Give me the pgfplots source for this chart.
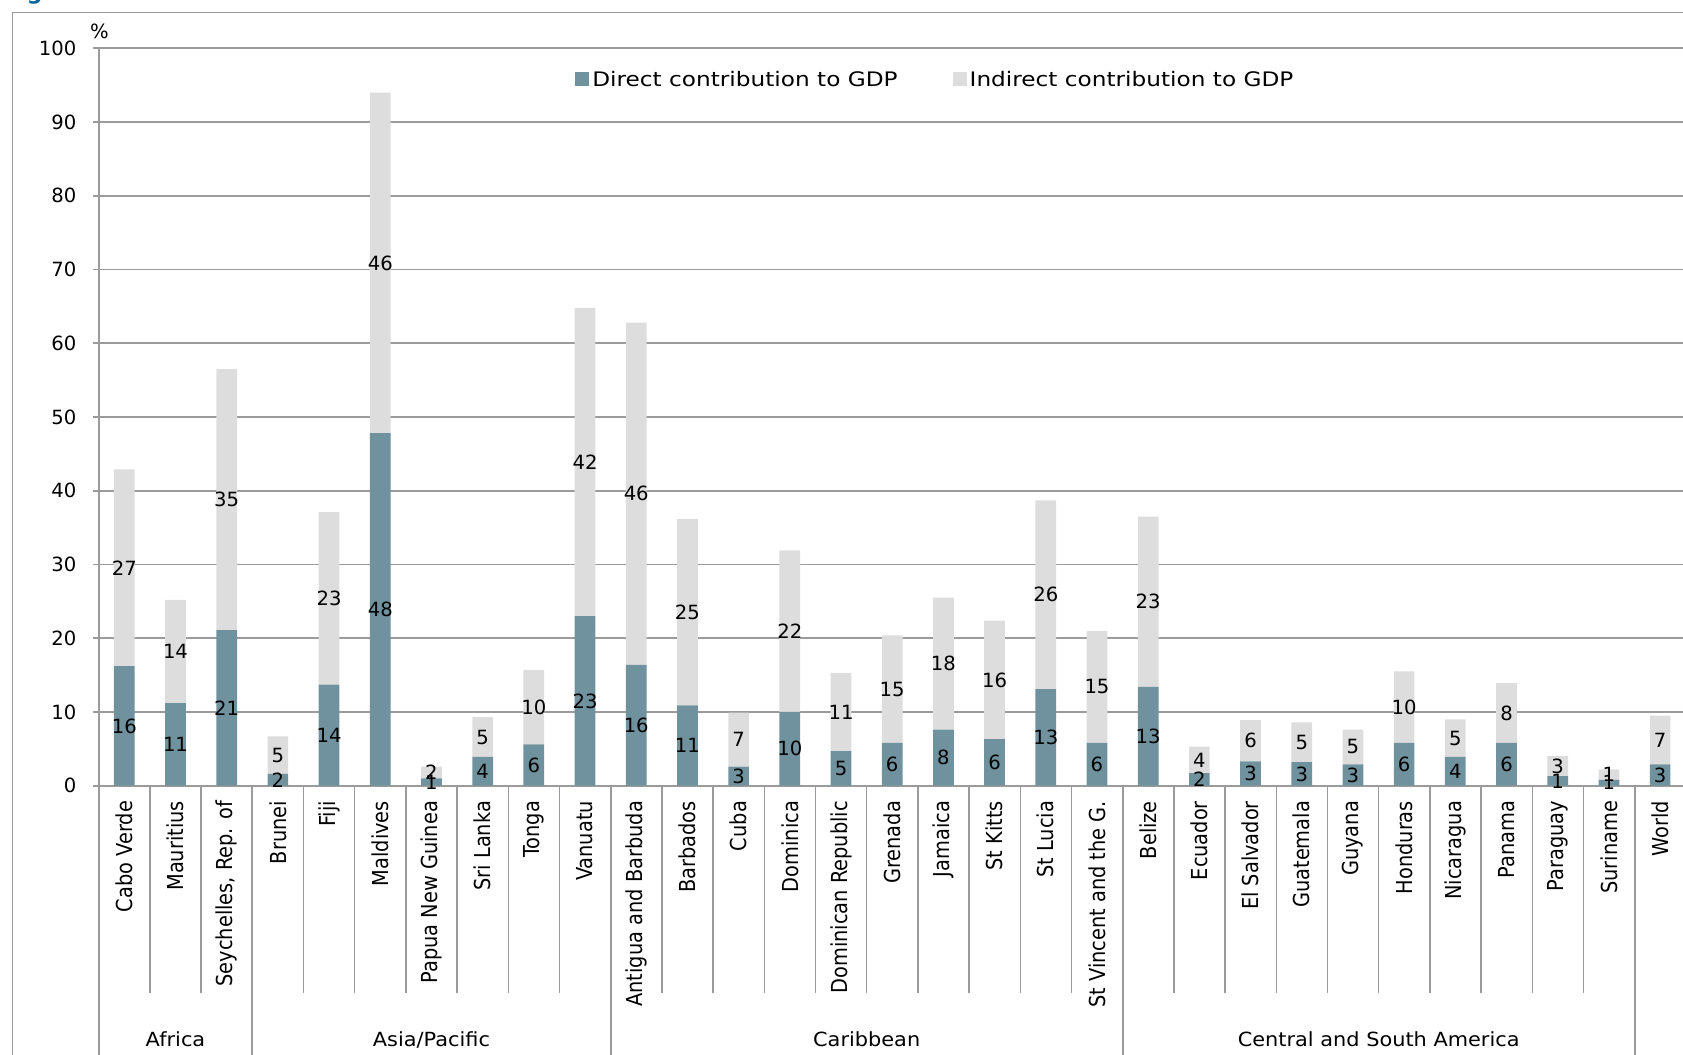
\documentclass[border=0pt]{standalone}
\usepackage{pgfplots}
\pgfplotsset{compat=1.18}
\usepackage{pgfplotstable}
\usepackage{fontspec}
\setmainfont{DejaVu Sans}
\newfontfamily\numfamily{DejaVu Sans}
\newfontfamily\legfamily{DejaVu Sans}[FakeStretch=1.16]
\newfontfamily\grpfamily{DejaVu Sans}[FakeStretch=1.07]
\newfontfamily\rotfamily{DejaVu Sans}[FakeStretch=0.88]
\newcommand\numfont{\numfamily\fontsize{9.8pt}{11pt}\selectfont}
\newcommand\legfont{\legfamily\fontsize{10pt}{12pt}\selectfont}
\newcommand\grpfont{\grpfamily\fontsize{9.75pt}{12pt}\selectfont}
\newcommand\rotfont{\rotfamily\fontsize{11pt}{13pt}\selectfont}

\definecolor{direct}{RGB}{111,146,158}
\definecolor{indirect}{RGB}{221,221,221}
\definecolor{rulegray}{RGB}{155,155,155}
\definecolor{titleblue}{RGB}{0,102,153}

% travel and tourism: direct and indirect contribution to GDP, per cent
\pgfplotstableread{
i  d     n
0  16.2  26.7
1  11.2  14.0
2  21.1  35.4
3  1.6   5.1
4  13.7  23.4
5  47.8  46.2
6  1.0   1.6
7  3.9   5.4
8  5.6   10.1
9  23.0  41.8
10 16.4  46.4
11 10.9  25.3
12 2.6   7.3
13 10.0  21.9
14 4.7   10.6
15 5.8   14.6
16 7.6   17.9
17 6.3   16.1
18 13.1  25.6
19 5.8   15.2
20 13.4  23.1
21 1.7   3.6
22 3.3   5.6
23 3.2   5.4
24 2.9   4.7
25 5.8   9.7
26 3.9   5.1
27 5.8   8.1
28 1.3   2.7
29 0.8   1.4
30 2.9   6.6
}\gdpdata

\begin{document}
\begin{tikzpicture}
\useasboundingbox (0,0) rectangle (841.5pt,527.5pt);
\clip (0,0) rectangle (841.5pt,527.5pt);
% outer frame
\draw[rulegray, line width=0.75pt] (6.25pt,-5pt) |- (860pt,521.15pt);
\node[anchor=base west, inner sep=0pt, text=titleblue,
      font=\bfseries\fontsize{11pt}{13pt}\selectfont] at (2pt,527.5pt) {Figure};

\begin{axis}[
  at={(49.35pt,134.65pt)}, anchor=south west,
  scale only axis, width=793.5pt, height=368.7pt,
  xmin=-0.5, xmax=30.5, ymin=0, ymax=100,
  ybar stacked, bar width=10.35pt,
  axis x line=bottom, axis y line=left,
  axis line style={rulegray, line width=0.9pt, -},
  ymajorgrids, grid style={rulegray, line width=0.9pt},
  ytick={0,10,...,100},
  tick align=outside, major tick length=3pt,
  ytick style={rulegray, line width=0.9pt},
  xtick={0,1,...,30},
  xtick style={draw=none},
  xticklabels={Cabo Verde, Mauritius, {Seychelles, Rep. of}, Brunei, Fiji,
    Maldives, Papua New Guinea, Sri Lanka, Tonga, Vanuatu,
    Antigua and Barbuda, Barbados, Cuba, Dominica, Dominican Republic,
    Grenada, Jamaica, St Kitts, St Lucia, St Vincent and the G.,
    Belize, Ecuador, El Salvador, Guatemala, Guyana, Honduras,
    Nicaragua, Panama, Paraguay, Suriname, World},
  xticklabel style={yshift=-4.5pt, rotate=90, anchor=east, font=\rotfont, inner sep=0pt},
  yticklabel style={xshift=-8pt, anchor=east, font=\numfont, inner sep=0pt},
  /pgf/number format/assume math mode=true,
  clip=false,
  legend style={at={(0.3001,0.9570)}, anchor=west, draw=none, fill=none,
    inner sep=0pt, font=\legfont, legend columns=2,
    nodes={inner sep=1.5pt},
    /tikz/every even column/.append style={column sep=26pt}},
  legend image code/.code={\fill[#1] (0pt,-3pt) rectangle (7pt,4pt);},
  % value labels sit in the middle of each stacked segment
  nodes near coords={\pgfmathprintnumber[fixed,precision=0]{\pgfplotspointmeta}},
  every node near coord/.append style={anchor=center, font=\numfont,
    text=black, inner sep=0pt},
]
\addplot[fill=direct, draw=none, point meta=explicit]
  table[x=i, y=d, meta=d] {\gdpdata};
\addlegendentry{Direct contribution to GDP}
\addplot[fill=indirect, draw=none, point meta=explicit]
  table[x=i, y=n, meta=n] {\gdpdata};
\addlegendentry{Indirect contribution to GDP}
\end{axis}

% unit label
\node[anchor=base, font=\numfont, inner sep=0pt] at (49.75pt,508pt) {\%};

% separators between categories and between regions
\foreach \k in {1,2,4,5,6,7,8,9,11,12,13,14,15,16,17,18,19,21,22,23,24,25,26,27,28,29}
  \draw[rulegray, line width=0.7pt] ({49.35pt+\k*25.6pt},134.65pt) -- ({49.35pt+\k*25.6pt},31pt);
\foreach \k in {0,3,10,20,30}
  \draw[rulegray, line width=0.9pt] ({49.35pt+\k*25.6pt},134.65pt) -- ({49.35pt+\k*25.6pt},-5pt);

% region names
\node[anchor=base, font=\grpfont, inner sep=0pt] at (87.75pt,4pt) {Africa};
\node[anchor=base, font=\grpfont, inner sep=0pt] at (215.75pt,4pt) {Asia/Pacific};
\node[anchor=base, font=\grpfont, inner sep=0pt] at (433.35pt,4pt) {Caribbean};
\node[anchor=base, font=\grpfont, inner sep=0pt] at (689.35pt,4pt) {Central and South America};
\end{tikzpicture}
\end{document}
